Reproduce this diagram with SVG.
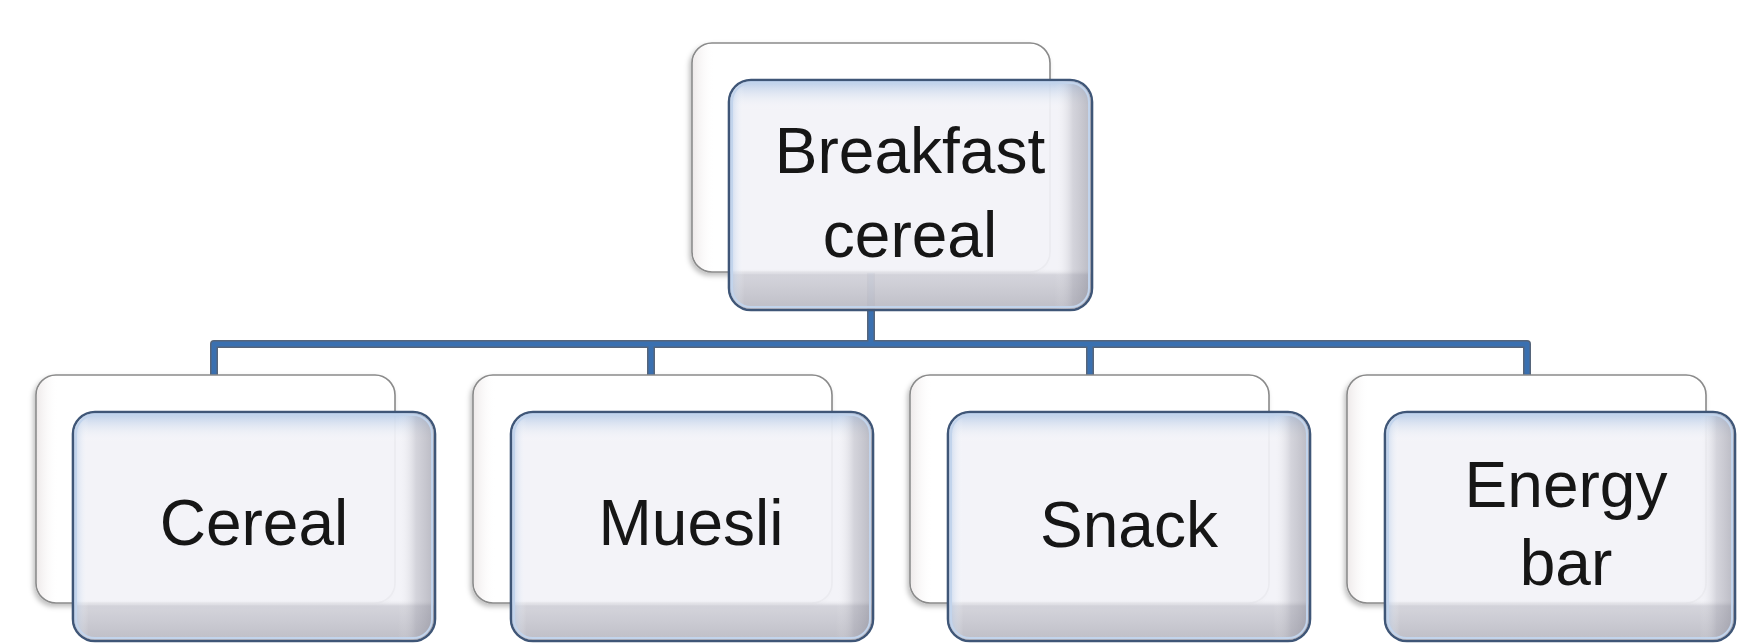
<svg xmlns="http://www.w3.org/2000/svg" width="1737" height="643" viewBox="0 0 1737 643">
<defs>
<style>
.back{fill:#ffffff;stroke:#8a8a8a;stroke-width:1.6;filter:url(#sh)}
.backin{fill:url(#bgl)}
.front{fill:#f2f2f7;fill-opacity:0.93;stroke:#3f5677;stroke-width:2.6}
.fv{fill:url(#gv)}
.fh{fill:url(#gh)}
.hl{fill:none;stroke:#c2d4ec;stroke-width:2}
.lbl{font-family:"Liberation Sans",Arial,sans-serif;font-size:64px;fill:#161616;text-anchor:middle}
.conn{fill:none;stroke-linejoin:round}
</style>
<filter id="sh" x="-10%" y="-10%" width="125%" height="125%">
<feDropShadow dx="-2" dy="3" stdDeviation="2.5" flood-color="#000" flood-opacity="0.25"/>
</filter>
<linearGradient id="gv" x1="0" y1="0" x2="0" y2="1">
<stop offset="0" stop-color="#a9c2e4" stop-opacity="0.8"/>
<stop offset="0.07" stop-color="#d8e2f0" stop-opacity="0.4"/>
<stop offset="0.13" stop-color="#ffffff" stop-opacity="0"/>
<stop offset="0.82" stop-color="#ffffff" stop-opacity="0"/>
<stop offset="0.85" stop-color="#9a9aa6" stop-opacity="0.35"/>
<stop offset="1" stop-color="#8a8a96" stop-opacity="0.5"/>
</linearGradient>
<linearGradient id="gh" x1="0" y1="0" x2="1" y2="0">
<stop offset="0" stop-color="#a9c2e4" stop-opacity="0.6"/>
<stop offset="0.04" stop-color="#ffffff" stop-opacity="0"/>
<stop offset="0.9" stop-color="#ffffff" stop-opacity="0"/>
<stop offset="0.95" stop-color="#9a9aa6" stop-opacity="0.35"/>
<stop offset="1" stop-color="#7f7f8c" stop-opacity="0.5"/>
</linearGradient>
<linearGradient id="bgl" x1="0" y1="0" x2="1" y2="0">
<stop offset="0" stop-color="#e8e2e2" stop-opacity="0.7"/>
<stop offset="0.06" stop-color="#ffffff" stop-opacity="0"/>
<stop offset="1" stop-color="#ffffff" stop-opacity="0"/>
</linearGradient>
</defs>

<g id="connectors" class="conn">
<path d="M871 272 V344 M214 375 V344 H1527 V375 M651 344 V375 M1090 344 V375" stroke="#56657a" stroke-width="8"/>
<path d="M871 272 V344 M214 375 V344 H1527 V375 M651 344 V375 M1090 344 V375" stroke="#3a70b0" stroke-width="5"/>
</g>

<g id="node-breakfast">
<rect class="back" x="692" y="43" width="358" height="229" rx="20"/>
<rect class="backin" x="693" y="44" width="356" height="227" rx="19"/>
<rect class="front" x="729" y="80" width="363" height="230" rx="22"/>
<rect class="fv" x="730" y="81" width="361" height="228" rx="21"/>
<rect class="fh" x="730" y="81" width="361" height="228" rx="21"/>
<rect class="hl" x="732" y="83" width="357" height="224" rx="19"/>
<text class="lbl" x="910" y="173">Breakfast</text>
<text class="lbl" x="910" y="257">cereal</text>
</g>

<g id="node-cereal">
<rect class="back" x="36" y="375" width="359" height="228" rx="20"/>
<rect class="backin" x="37" y="376" width="357" height="226" rx="19"/>
<rect class="front" x="73" y="412" width="362" height="229" rx="22"/>
<rect class="fv" x="74" y="413" width="360" height="227" rx="21"/>
<rect class="fh" x="74" y="413" width="360" height="227" rx="21"/>
<rect class="hl" x="76" y="415" width="356" height="223" rx="19"/>
<text class="lbl" x="254" y="545">Cereal</text>
</g>

<g id="node-muesli">
<rect class="back" x="473" y="375" width="359" height="228" rx="20"/>
<rect class="backin" x="474" y="376" width="357" height="226" rx="19"/>
<rect class="front" x="511" y="412" width="362" height="229" rx="22"/>
<rect class="fv" x="512" y="413" width="360" height="227" rx="21"/>
<rect class="fh" x="512" y="413" width="360" height="227" rx="21"/>
<rect class="hl" x="514" y="415" width="356" height="223" rx="19"/>
<text class="lbl" x="691" y="545">Muesli</text>
</g>

<g id="node-snack">
<rect class="back" x="910" y="375" width="359" height="228" rx="20"/>
<rect class="backin" x="911" y="376" width="357" height="226" rx="19"/>
<rect class="front" x="948" y="412" width="362" height="229" rx="22"/>
<rect class="fv" x="949" y="413" width="360" height="227" rx="21"/>
<rect class="fh" x="949" y="413" width="360" height="227" rx="21"/>
<rect class="hl" x="951" y="415" width="356" height="223" rx="19"/>
<text class="lbl" x="1129" y="547">Snack</text>
</g>

<g id="node-energy-bar">
<rect class="back" x="1347" y="375" width="359" height="228" rx="20"/>
<rect class="backin" x="1348" y="376" width="357" height="226" rx="19"/>
<rect class="front" x="1385" y="412" width="350" height="229" rx="22"/>
<rect class="fv" x="1386" y="413" width="348" height="227" rx="21"/>
<rect class="fh" x="1386" y="413" width="348" height="227" rx="21"/>
<rect class="hl" x="1388" y="415" width="344" height="223" rx="19"/>
<text class="lbl" x="1566" y="507">Energy</text>
<text class="lbl" x="1566" y="585">bar</text>
</g>
</svg>
